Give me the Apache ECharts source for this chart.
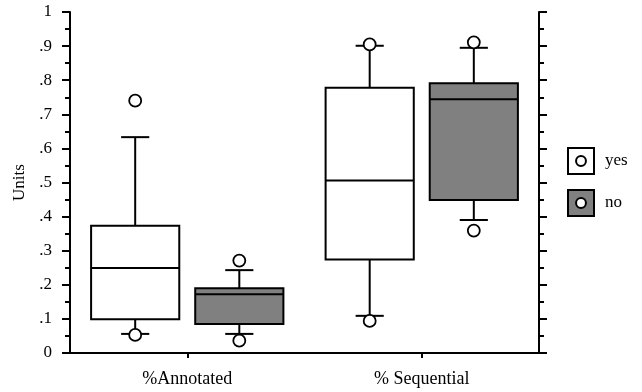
<!DOCTYPE html>
<html>
<head>
<meta charset="utf-8">
<script src="https://cdn.jsdelivr.net/npm/echarts@6/dist/echarts.min.js"></script>
<style>html,body{margin:0;padding:0;background:#fff}#c{width:642px;height:392px}</style>
</head>
<body>
<div id="c"></div>
<script>
const categories = ['%Annotated', '% Sequential'];
const seriesNames = ['yes', 'no'];
// [categoryIndex, min, q1, median, q3, max]
const yesStats = [[0, 0.056, 0.099, 0.249, 0.373, 0.633], [1, 0.109, 0.274, 0.506, 0.778, 0.901]];
const noStats = [[0, 0.056, 0.085, 0.172, 0.190, 0.243], [1, 0.390, 0.449, 0.744, 0.791, 0.895]];
// [categoryIndex, value]
const yesOutliers = [[0, 0.740], [0, 0.053], [1, 0.905], [1, 0.094]];
const noOutliers = [[0, 0.271], [0, 0.036], [1, 0.911], [1, 0.359]];
const yTicks = ['0', '.1', '.2', '.3', '.4', '.5', '.6', '.7', '.8', '.9', '1'];

const FONT = 'Liberation Serif';
const fills = { yes: '#ffffff', no: '#808080' };
const offsets = { yes: -0.222, no: 0.222 };

function boxRender(name) {
  return function (params, api) {
    const cat = api.value(0);
    const band = api.size([1, 0])[0];
    const cx = api.coord([cat, 0])[0] + offsets[name] * band;
    const hw = band * 0.188;
    const cw = band * 0.06;
    const yMin = api.coord([cat, api.value(1)])[1];
    const yQ1 = api.coord([cat, api.value(2)])[1];
    const yMed = api.coord([cat, api.value(3)])[1];
    const yQ3 = api.coord([cat, api.value(4)])[1];
    const yMax = api.coord([cat, api.value(5)])[1];
    const ls = { stroke: '#000', lineWidth: 2, fill: null };
    return {
      type: 'group',
      children: [
        { type: 'line', shape: { x1: cx, y1: yQ3, x2: cx, y2: yMax }, style: ls },
        { type: 'line', shape: { x1: cx - cw, y1: yMax, x2: cx + cw, y2: yMax }, style: ls },
        { type: 'line', shape: { x1: cx, y1: yQ1, x2: cx, y2: yMin }, style: ls },
        { type: 'line', shape: { x1: cx - cw, y1: yMin, x2: cx + cw, y2: yMin }, style: ls },
        { type: 'rect', shape: { x: cx - hw, y: yQ3, width: hw * 2, height: yQ1 - yQ3 },
          style: { fill: fills[name], stroke: '#000', lineWidth: 2 } },
        { type: 'line', shape: { x1: cx - hw, y1: yMed, x2: cx + hw, y2: yMed }, style: ls }
      ]
    };
  };
}
function outlierRender(name) {
  return function (params, api) {
    const cat = api.value(0);
    const band = api.size([1, 0])[0];
    const p = api.coord([cat, api.value(1)]);
    return {
      type: 'circle',
      shape: { cx: p[0] + offsets[name] * band, cy: p[1], r: 6 },
      style: { fill: '#fff', stroke: '#000', lineWidth: 1.8 }
    };
  };
}

const iconPath = 'path://M0 0 L100 0 L100 100 L0 100 Z M69 50 A19 19 0 1 0 31 50 A19 19 0 1 0 69 50 Z';

const yAxisCommon = {
  type: 'value', min: 0, max: 1, interval: 0.1,
  axisLine: { show: true, lineStyle: { color: '#000', width: 2 } },
  axisTick: { show: true, inside: false, length: 8, lineStyle: { color: '#000', width: 2 } },
  minorTick: { show: true, splitNumber: 2, length: 5, lineStyle: { color: '#000', width: 2 } },
  splitLine: { show: false }
};

const chart = echarts.init(document.getElementById('c'));
chart.setOption({
  backgroundColor: '#fff',
  animation: false,
  textStyle: { fontFamily: FONT },
  grid: { left: 70, right: 103, top: 12, bottom: 39, outerBoundsMode: 'none', containLabel: false },
  legend: {
    orient: 'vertical', left: 562, top: 142,
    itemWidth: 26, itemHeight: 26, itemGap: 14,
    textStyle: { fontFamily: FONT, fontSize: 17, color: '#000', padding: [3, 0, 0, 6] },
    data: seriesNames.map(n => ({ name: n, icon: iconPath, itemStyle: { color: fills[n], borderColor: '#000', borderWidth: 2 } }))
  },
  xAxis: [{
    type: 'category', data: categories, position: 'bottom',
    axisLine: { lineStyle: { color: '#000', width: 2 } },
    axisTick: { show: true, alignWithLabel: true, length: 5, lineStyle: { color: '#000', width: 2 } },
    axisLabel: { color: '#000', fontFamily: FONT, fontSize: 18, margin: 17 }
  }, {
    type: 'category', data: categories, position: 'top',
    axisLine: { lineStyle: { color: '#000', width: 2 } },
    axisTick: { show: false }, axisLabel: { show: false }
  }],
  yAxis: [Object.assign({}, yAxisCommon, {
    position: 'left',
    name: 'Units', nameLocation: 'middle', nameRotate: 90, nameGap: 42,
    nameTextStyle: { color: '#000', fontFamily: FONT, fontSize: 17 },
    axisLabel: { color: '#000', fontFamily: FONT, fontSize: 17, margin: 18,
      formatter: function (v) { return yTicks[Math.round(v * 10)]; } }
  }), Object.assign({}, yAxisCommon, {
    position: 'right', axisLabel: { show: false }
  })],
  series: [
    { name: 'yes', type: 'custom', itemStyle: { color: fills.yes }, renderItem: boxRender('yes'), data: yesStats, encode: { x: 0, y: [1, 2, 3, 4, 5] }, z: 2 },
    { name: 'no', type: 'custom', itemStyle: { color: fills.no }, renderItem: boxRender('no'), data: noStats, encode: { x: 0, y: [1, 2, 3, 4, 5] }, z: 2 },
    { name: 'yes', type: 'custom', renderItem: outlierRender('yes'), data: yesOutliers, encode: { x: 0, y: 1 }, z: 3 },
    { name: 'no', type: 'custom', renderItem: outlierRender('no'), data: noOutliers, encode: { x: 0, y: 1 }, z: 3 }
  ]
});
</script>
</body>
</html>
